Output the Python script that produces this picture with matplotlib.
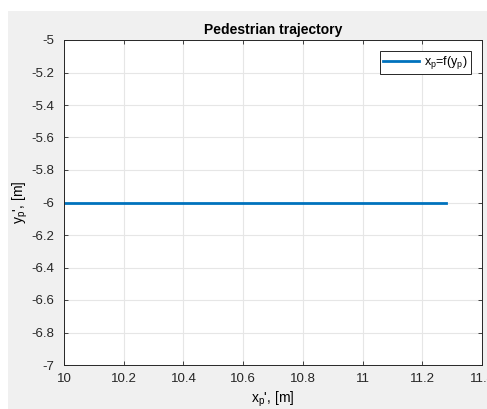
import matplotlib
matplotlib.use("Agg")
import matplotlib.pyplot as plt
from matplotlib.patches import Rectangle

plt.rcParams['font.family'] = ['Liberation Sans', 'DejaVu Sans']

# Data
x_p = [10.0, 11.28]
y_p = [-6.0, -6.0]
x_ticks = [10, 10.2, 10.4, 10.6, 10.8, 11, 11.2, 11.4]
x_labels = ['10', '10.2', '10.4', '10.6', '10.8', '11', '11.2', '11.4']
y_ticks = [-7, -6.8, -6.6, -6.4, -6.2, -6, -5.8, -5.6, -5.4, -5.2, -5]
y_labels = ['-7', '-6.8', '-6.6', '-6.4', '-6.2', '-6', '-5.8', '-5.6', '-5.4', '-5.2', '-5']

W, H = 487, 409
fig = plt.figure(figsize=(W / 100, H / 100), dpi=100, facecolor='white')
# gray MATLAB figure area (cropped screenshot leaves a white strip top/left)
fig.patches.append(Rectangle((8 / W, 0), 1, 1 - 11 / H, transform=fig.transFigure,
                             facecolor='#f0f0f0', edgecolor='none', zorder=-10))

ax = fig.add_axes([64 / W, 1 - 365 / H, (482 - 64) / W, (365 - 40) / H])
ax.plot(x_p, y_p, color=(0, 0.447, 0.741), linewidth=2, label=r'x$_\mathregular{p}$=f(y$_\mathregular{p}$)')

ax.set_xlim(10, 11.4)
ax.set_ylim(-7, -5)
ax.set_xticks(x_ticks)
ax.set_xticklabels(x_labels)
ax.set_yticks(y_ticks)
ax.set_yticklabels(y_labels)
ax.grid(True, color='#e6e6e6', linewidth=0.8)
ax.set_axisbelow(True)
ax.tick_params(direction='in', length=3, top=True, right=True, labelsize=9.5,
               colors='#262626', width=0.6)
ax.tick_params(axis='x', pad=6)
ax.tick_params(axis='y', pad=7)
for s in ax.spines.values():
    s.set_color('#262626')
    s.set_linewidth(0.7)

ax.set_title('Pedestrian trajectory', fontsize=10, fontweight='bold', pad=4)
ax.set_xlabel(r"x$_\mathregular{p}$', [m]", fontsize=10, labelpad=3)
ax.set_ylabel(r"y$_\mathregular{p}$', [m]", fontsize=10, labelpad=1)

leg = ax.legend(loc='upper right', fontsize=9, fancybox=False, framealpha=1,
                edgecolor='#262626', borderaxespad=0.9, handlelength=2.9,
                borderpad=0.25, handletextpad=0.4)
leg.get_frame().set_linewidth(0.7)

fig.savefig('out.png', dpi=100, facecolor=fig.get_facecolor())
